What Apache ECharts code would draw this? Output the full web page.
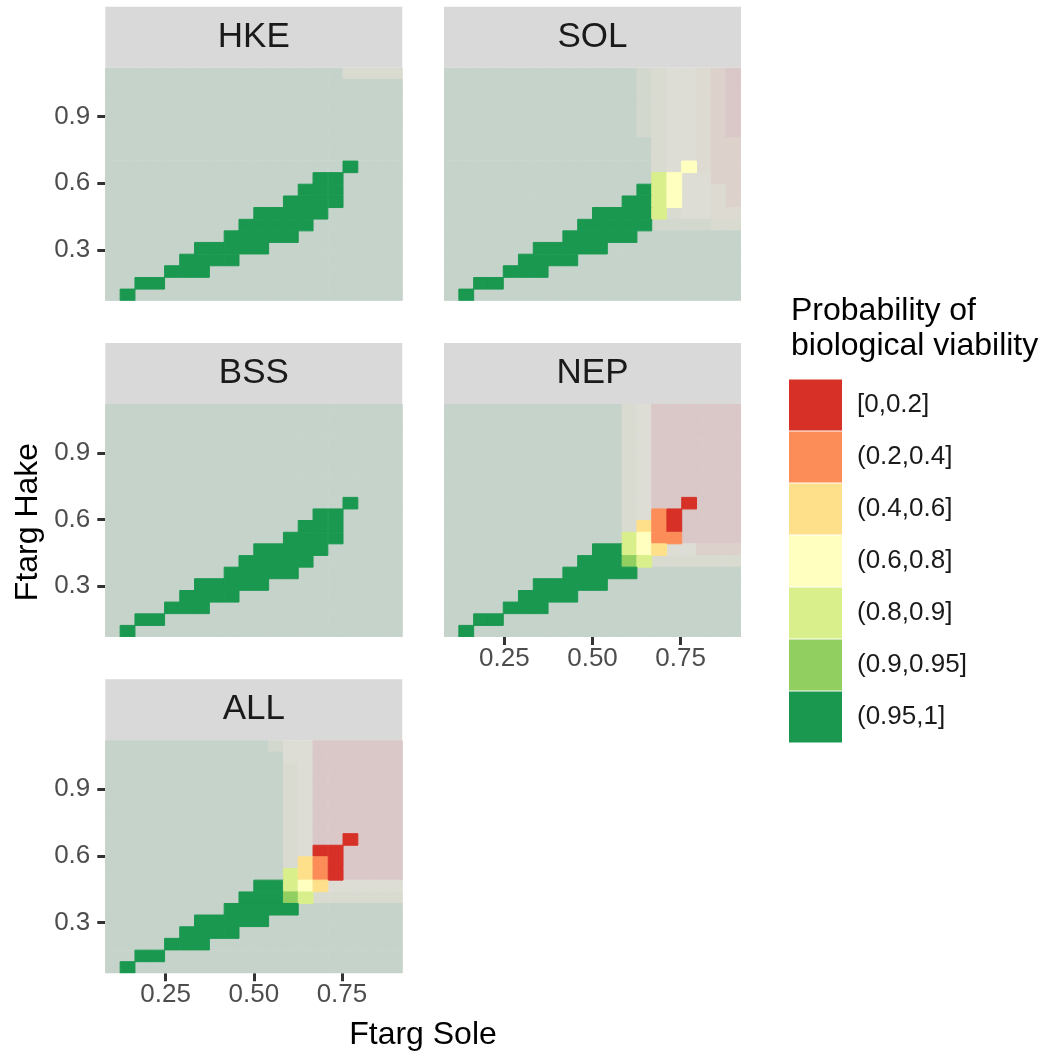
<!DOCTYPE html>
<html>
<head>
<meta charset="utf-8">
<title>Probability of biological viability</title>
<script src="https://cdn.jsdelivr.net/npm/echarts/dist/echarts.min.js"></script>
<style>
  html, body { margin: 0; padding: 0; background: #fff; }
  #viability { width: 1047px; height: 1053px; }
</style>
</head>
<body>
<div id="viability"></div>
<script>
// tile centres of the Ftarg grid
const ftargSole = [0.100, 0.142, 0.184, 0.226, 0.268, 0.311, 0.353, 0.395, 0.437, 0.479,
                   0.521, 0.563, 0.605, 0.647, 0.689, 0.732, 0.774, 0.816, 0.858, 0.900];
const ftargHake = [0.098, 0.150, 0.203, 0.255, 0.308, 0.360, 0.412, 0.465, 0.517, 0.570,
                   0.622, 0.674, 0.727, 0.779, 0.832, 0.884, 0.936, 0.989, 1.041, 1.094];
const soleTicks = [0.25, 0.5, 0.75];
const hakeTicks = [0.3, 0.6, 0.9];

const classLabels = ["[0,0.2]", "(0.2,0.4]", "(0.4,0.6]", "(0.6,0.8]", "(0.8,0.9]", "(0.9,0.95]", "(0.95,1]"];
const classColors = ["#d73027", "#fc8d59", "#fee08b", "#ffffbf", "#d9ef8b", "#91cf60", "#1a9850"];

// one string per Ftarg Hake row, top row first; one char per Ftarg Sole column
// "1".."7" = class shown solid, "a".."g" = same class shown faded
const HKE = [
  "ggggggggggggggggeeee",
  "gggggggggggggggggggg",
  "gggggggggggggggggggg",
  "gggggggggggggggggggg",
  "gggggggggggggggggggg",
  "gggggggggggggggggggg",
  "gggggggggggggggggggg",
  "gggggggggggggggggggg",
  "gggggggggggggggg7ggg",
  "gggggggggggggg77gggg",
  "ggggggggggggg777gggg",
  "gggggggggggg7777gggg",
  "gggggggggg77777ggggg",
  "ggggggggg77777gggggg",
  "gggggggg77777ggggggg",
  "gggggg77777ggggggggg",
  "ggggg7777ggggggggggg",
  "gggg777ggggggggggggg",
  "gg77gggggggggggggggg",
  "g7gggggggggggggggggg"
];
const SOL = [
  "gggggggggggggfeddcba",
  "gggggggggggggfeddcba",
  "gggggggggggggfeddcba",
  "gggggggggggggfeddcba",
  "gggggggggggggfeddcba",
  "gggggggggggggfeddcba",
  "ggggggggggggggeddcbb",
  "ggggggggggggggeddcbb",
  "gggggggggggggged4cbb",
  "gggggggggggggg54ddbb",
  "ggggggggggggg754ddcb",
  "gggggggggggg7754ddcb",
  "gggggggggg77775eddcc",
  "ggggggggg77777ffffee",
  "gggggggg77777ggggggg",
  "gggggg77777ggggggggg",
  "ggggg7777ggggggggggg",
  "gggg777ggggggggggggg",
  "gg77gggggggggggggggg",
  "g7gggggggggggggggggg"
];
const BSS = [
  "gggggggggggggggggggg",
  "gggggggggggggggggggg",
  "gggggggggggggggggggg",
  "gggggggggggggggggggg",
  "gggggggggggggggggggg",
  "gggggggggggggggggggg",
  "gggggggggggggggggggg",
  "gggggggggggggggggggg",
  "gggggggggggggggg7ggg",
  "gggggggggggggg77gggg",
  "ggggggggggggg777gggg",
  "gggggggggggg7777gggg",
  "gggggggggg77777ggggg",
  "ggggggggg77777gggggg",
  "gggggggg77777ggggggg",
  "gggggg77777ggggggggg",
  "ggggg7777ggggggggggg",
  "gggg777ggggggggggggg",
  "gg77gggggggggggggggg",
  "g7gggggggggggggggggg"
];
const NEP = [
  "ggggggggggggedaaaaaa",
  "ggggggggggggedaaaaaa",
  "ggggggggggggedaaaaaa",
  "ggggggggggggedaaaaaa",
  "ggggggggggggedaaaaaa",
  "ggggggggggggedaaaaaa",
  "ggggggggggggedaaaaaa",
  "ggggggggggggedaaaaaa",
  "ggggggggggggedaa1aaa",
  "gggggggggggged21aaaa",
  "gggggggggggge321aaaa",
  "gggggggggggg5422aaaa",
  "gggggggggg77543ddbbb",
  "ggggggggg77765eeeeee",
  "gggggggg77777ggggggg",
  "gggggg77777ggggggggg",
  "ggggg7777ggggggggggg",
  "gggg777ggggggggggggg",
  "gg77gggggggggggggggg",
  "g7gggggggggggggggggg"
];
const ALL = [
  "gggggggggggfddaaaaaa",
  "ggggggggggggddaaaaaa",
  "ggggggggggggedaaaaaa",
  "ggggggggggggedaaaaaa",
  "ggggggggggggedaaaaaa",
  "ggggggggggggedaaaaaa",
  "ggggggggggggedaaaaaa",
  "ggggggggggggedaaaaaa",
  "ggggggggggggedaa1aaa",
  "gggggggggggged11aaaa",
  "gggggggggggge321aaaa",
  "gggggggggggg5321aaaa",
  "gggggggggg77543ddddd",
  "ggggggggg77765eeeeee",
  "gggggggg77777ggggggg",
  "gggggg77777ggggggggg",
  "ggggg7777ggggggggggg",
  "gggg777ggggggggggggg",
  "gg77gggggggggggggggg",
  "g7gggggggggggggggggg"
];

const panelNames = ["HKE", "SOL", "BSS", "NEP", "ALL"];
const panelRows = [HKE, SOL, BSS, NEP, ALL];

const FONT = "'Liberation Sans', Arial, sans-serif";
const stripGrey = "#d9d9d9";

// facet layout (pixels)
const colLeft = [105.3, 444];
const rowTop = [67.7, 404, 740.3];
const panelW = 297, panelH = 233, stripH = 61;
const panelPos = [[0, 0], [1, 0], [0, 1], [1, 1], [0, 2]];
const showX = [false, false, false, true, true];
const showY = [true, false, true, false, true];

const soleRange = [0.0789, 0.9211];
const hakeRange = [0.0718, 1.1202];

function cellsOf(rows) {
  let faded = [], solid = [];
  rows.forEach((line, r) => {
    const hake = ftargHake[ftargHake.length - 1 - r];
    line.split("").forEach((ch, c) => {
      if (ch >= "1" && ch <= "7") {
        solid.push([ftargSole[c], hake, Number(ch), 1]);
      } else {
        faded.push([ftargSole[c], hake, ch.charCodeAt(0) - 96, 0]);
      }
    });
  });
  return faded.concat(solid);
}

function renderTile(params, api) {
  const halfW = (ftargSole[1] - ftargSole[0]) / 2;
  const halfH = (ftargHake[1] - ftargHake[0]) / 2;
  const x = api.value(0), y = api.value(1);
  const p0 = api.coord([x - halfW, y + halfH]);
  const p1 = api.coord([x + halfW, y - halfH]);
  const base = classColors[api.value(2) - 1];
  const solid = api.value(3) === 1;
  const fill = solid ? base : echarts.color.lerp(0.1, [stripGrey, base]);
  return {
    type: "rect",
    shape: { x: p0[0], y: p0[1], width: p1[0] - p0[0], height: p1[1] - p0[1] },
    style: { fill: fill, stroke: fill, lineWidth: 1 }
  };
}

let myChart = echarts.init(document.getElementById("viability"), null, { renderer: "canvas" });

let grids = [], xAxes = [], yAxes = [], series = [], graphics = [];
panelNames.forEach((name, i) => {
  const left = colLeft[panelPos[i][0]];
  const top = rowTop[panelPos[i][1]];
  grids.push({ left: left, top: top, width: panelW, height: panelH, show: false });
  xAxes.push({
    gridIndex: i, type: "value", min: soleRange[0], max: soleRange[1],
    axisLine: { show: false }, splitLine: { show: false },
    axisTick: { show: showX[i], customValues: soleTicks, length: 8, lineStyle: { color: "#333333", width: 3 } },
    axisLabel: {
      show: showX[i], customValues: soleTicks, margin: 9,
      formatter: (v) => v.toFixed(2), color: "#4d4d4d", fontSize: 26, fontFamily: FONT
    }
  });
  yAxes.push({
    gridIndex: i, type: "value", min: hakeRange[0], max: hakeRange[1],
    axisLine: { show: false }, splitLine: { show: false },
    axisTick: { show: showY[i], customValues: hakeTicks, length: 8, lineStyle: { color: "#333333", width: 3 } },
    axisLabel: {
      show: showY[i], customValues: hakeTicks, margin: 15,
      formatter: (v) => v.toFixed(1), color: "#4d4d4d", fontSize: 26, fontFamily: FONT
    }
  });
  series.push({
    name: name, type: "custom", xAxisIndex: i, yAxisIndex: i, clip: true,
    renderItem: renderTile, data: cellsOf(panelRows[i]), silent: true
  });
  // facet strip
  graphics.push({
    type: "rect", shape: { x: left, y: top - stripH, width: panelW, height: stripH },
    style: { fill: stripGrey }, silent: true
  });
  graphics.push({
    type: "text", x: left + panelW / 2, y: top - stripH / 2,
    style: { text: name, fill: "#1a1a1a", font: "35px " + FONT, align: "center", verticalAlign: "middle" },
    silent: true
  });
});

// axis titles
graphics.push({
  type: "text", x: 423, y: 1035,
  style: { text: "Ftarg Sole", fill: "#000", font: "32px " + FONT, align: "center", verticalAlign: "middle" },
  silent: true
});
graphics.push({
  type: "text", x: 28, y: 522, rotation: Math.PI / 2,
  style: { text: "Ftarg Hake", fill: "#000", font: "32px " + FONT, align: "center", verticalAlign: "middle" },
  silent: true
});

let option = {
  animation: false,
  backgroundColor: "#ffffff",
  title: {
    text: "Probability of\nbiological viability",
    left: 791, top: 294, padding: 0,
    textStyle: { fontSize: 32, lineHeight: 35, fontWeight: "normal", color: "#000", fontFamily: FONT }
  },
  grid: grids,
  xAxis: xAxes,
  yAxis: yAxes,
  visualMap: {
    type: "piecewise",
    dimension: 2,
    seriesIndex: [0, 1, 2, 3, 4],
    pieces: classLabels.map((label, k) => ({ value: k + 1, label: label, color: classColors[k] })),
    orient: "vertical",
    inverse: true,
    left: 789, top: 379.5, padding: 0,
    itemWidth: 53, itemHeight: 51, itemGap: 1,
    itemSymbol: "rect",
    textGap: 15,
    align: "left",
    selectedMode: false,
    hoverLink: false,
    textStyle: { fontSize: 26, color: "#1a1a1a", fontFamily: FONT }
  },
  series: series,
  graphic: graphics
};

myChart.setOption(option);
</script>
</body>
</html>
